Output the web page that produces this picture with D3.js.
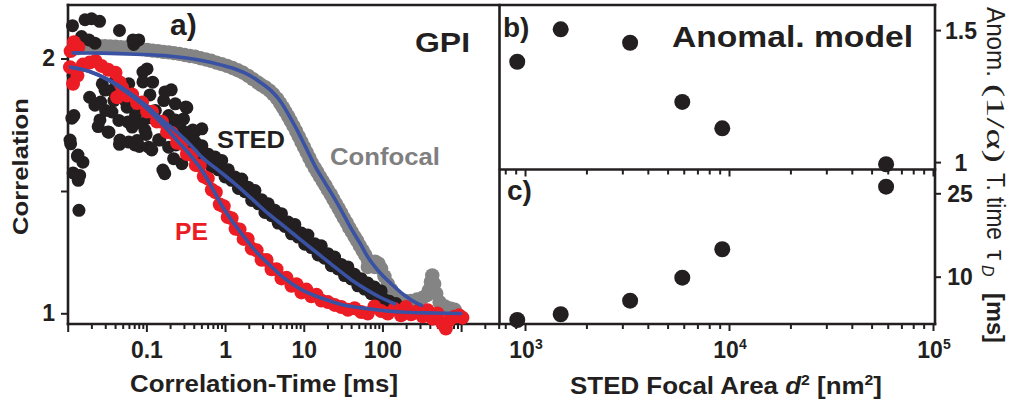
<!DOCTYPE html>
<html><head><meta charset="utf-8">
<script src="https://cdn.jsdelivr.net/npm/d3@7"></script>
<style>
body{margin:0;background:#fff;}
svg{display:block;}
</style>
</head><body>
<svg id="chart" width="1011" height="404"></svg>
<script>
// ---------------- DATA ----------------
// Panel a: FCS correlation curves, [tau (ms), G]
const confocalData = [[0.0117,2.037],[0.0136,2.041],[0.0160,2.043],[0.0186,2.046],[0.0218,2.047],[0.0254,2.048],[0.0297,2.048],[0.0347,2.047],[0.0405,2.046],[0.0473,2.044],[0.0553,2.043],[0.0646,2.042],[0.0755,2.039],[0.0881,2.037],[0.103,2.034],[0.120,2.031],[0.141,2.029],[0.164,2.026],[0.192,2.024],[0.224,2.021],[0.262,2.018],[0.306,2.014],[0.357,2.010],[0.417,2.007],[0.487,2.001],[0.569,1.996],[0.665,1.991],[0.777,1.984],[0.907,1.978],[1.06,1.971],[1.24,1.963],[1.45,1.954],[1.69,1.944],[1.97,1.932],[2.26,1.919],[2.59,1.906],[2.91,1.895],[3.27,1.886],[3.68,1.874],[4.09,1.860],[4.60,1.842],[5.01,1.825],[5.42,1.808],[5.86,1.791],[6.33,1.773],[6.85,1.754],[7.40,1.735],[8.00,1.715],[8.64,1.694],[9.34,1.673],[10.1,1.652],[10.9,1.631],[11.8,1.610],[12.7,1.590],[13.8,1.571],[14.9,1.554],[16.1,1.536],[17.4,1.519],[18.8,1.502],[20.3,1.484],[22.0,1.467],[23.8,1.448],[25.7,1.430],[27.7,1.412],[30.0,1.393],[32.4,1.374],[35.0,1.356],[37.8,1.336],[40.9,1.319],[44.2,1.301],[47.8,1.284],[51.6,1.265],[55.8,1.247],[60.4,1.229],[65.2,1.210],[65.2,1.182],[71.9,1.192],[79.2,1.182],[80.8,1.203],[89.0,1.195],[96.2,1.175],[106,1.145],[117,1.116],[129,1.093],[145,1.072],[166,1.056],[194,1.048],[231,1.048],[275,1.054],[321,1.060],[367,1.071],[390,1.090],[413,1.123],[430,1.149],[455,1.116],[483,1.077],[532,1.044],[621,1.027],[740,1.018],[831,1.014]];

const stedData = [[0.0115,2.129],[0.0166,2.152],[0.0201,2.156],[0.0254,2.146],[0.0455,2.110],[0.0800,2.073],[0.0691,2.055],[0.0150,2.086],[0.0222,2.060],[0.0117,1.933],[0.0120,1.776],[0.0109,1.665],[0.0133,1.616],[0.0156,1.593],[0.0142,1.541],[0.0136,1.522],[0.0139,1.404],[0.102,1.959],[0.120,1.907],[0.207,1.877],[0.0262,1.829],[0.0244,1.733],[0.0334,1.711],[0.0455,1.663],[0.0597,1.672],[0.0762,1.678],[0.0815,1.655],[0.0991,1.702],[0.143,1.681],[0.171,1.548],[0.0386,1.835],[0.0492,1.855],[0.0569,1.809],[0.0726,1.776],[0.107,1.767],[0.130,1.796],[0.166,1.835],[0.233,1.822],[0.327,1.807],[0.0275,1.901],[0.0367,1.875],[0.0447,1.757],[0.0659,1.731],[0.0881,1.744],[0.297,1.763],[0.409,1.711],[0.343,1.639],[0.283,1.587],[0.222,1.607],[0.507,1.724],[0.0190,1.848],[0.0303,1.796],[0.0405,1.914],[0.0597,1.901],[0.192,1.652],[0.107,1.652],
[0.0222,1.817],[0.0257,1.759],[0.0325,1.712],[0.0365,1.790],[0.0461,1.680],[0.0533,1.837],[0.0582,1.751],[0.0715,1.661],[0.0828,1.798],[0.0957,1.719],[0.111,1.857],[0.117,1.641],[0.148,1.680],[0.172,1.869],[0.199,1.739],[0.237,1.661],[0.317,1.810],[0.389,1.719],[0.162,1.562],[0.0904,1.947],[0.0904,1.908],[0.0113,1.766],[0.0107,1.680],[0.0135,1.621],[0.0117,1.551],[0.0186,2.073],[0.0675,2.073],[0.0298,1.876],[0.0436,1.896],
[0.192,1.776],[0.211,1.725],[0.233,1.759],[0.257,1.707],[0.283,1.718],[0.312,1.673],[0.343,1.710],[0.379,1.658],[0.417,1.672],[0.460,1.624],[0.507,1.658],[0.558,1.605],[0.615,1.624],[0.678,1.574],[0.747,1.613],[0.824,1.563],[0.907,1.600],[1.00,1.535],[1.10,1.563],[1.21,1.522],[1.34,1.535],[1.48,1.490],[1.63,1.527],[1.79,1.477],[1.97,1.495],[2.18,1.443],[2.40,1.482],[2.64,1.430],[2.91,1.446],[3.21,1.396],[3.54,1.430],[3.90,1.383],[4.30,1.404],[4.73,1.354],[5.21,1.391],[5.75,1.341],[6.33,1.358],[6.98,1.312],[7.69,1.349],[8.48,1.299],[9.34,1.315],[10.3,1.271],[11.3,1.307],[12.5,1.258],[13.8,1.273],[15.2,1.229],[16.7,1.265],[18.4,1.216],[20.3,1.234],[22.4,1.187],[24.7,1.221],[27.2,1.174],[30.0,1.192],[33.0,1.148],[36.4,1.182],[40.1,1.135],[44.2,1.153],[48.7,1.108],[53.7,1.136],[59.2,1.095],[65.2,1.119],[71.9,1.077],[79.2,1.103],[87.3,1.064],[96.2,1.088],[106,1.054],[123,1.047],[149,1.038]];

const peData = [[0.0120,2.064],[0.0136,2.044],[0.0109,2.029],[0.0107,1.966],[0.0117,1.901],[0.0133,1.933],[0.0156,1.976],[0.0190,1.984],[0.0226,1.990],[0.0269,1.971],[0.0327,1.956],[0.0405,1.944],[0.0455,1.907],[0.0425,1.848],
[0.0492,1.885],[0.0569,1.855],[0.0659,1.859],[0.0762,1.825],[0.0881,1.827],[0.102,1.792],[0.118,1.791],[0.136,1.753],[0.158,1.752],[0.183,1.712],[0.211,1.708],[0.245,1.669],[0.283,1.665],[0.327,1.625],[0.379,1.621],[0.425,1.582],[0.478,1.579],[0.537,1.537],[0.603,1.529],[0.678,1.485],[0.762,1.475],[0.856,1.427],[0.962,1.420],[1.08,1.378],[1.21,1.373],[1.36,1.332],[1.53,1.329],[1.72,1.292],[1.94,1.292],[2.18,1.254],[2.52,1.247],[2.91,1.210],[3.37,1.209],[3.90,1.173],[4.51,1.173],[5.21,1.137],[6.03,1.140],[6.98,1.108],[8.08,1.114],[9.34,1.082],[10.8,1.093],[12.5,1.067],[14.5,1.073],[16.7,1.050],[20.3,1.044],[24.7,1.033],[30.0,1.025],[36.4,1.014],[44.2,1.020],[53.7,1.005],[65.2,0.999],[79.2,1.027],[96.2,1.009],[117,0.999],[142,1.017],[172,0.992],[199,1.025],[231,0.996],[280,1.009],[324,0.988],[375,1.012],[434,0.979],[501,0.999],[580,0.959],[640,0.940],[705,0.973],[815,0.986],[944,0.992],[1040,0.983]];

// fitted curves (blue)
const confocalFit = [[0.0117,2.022],[0.0275,2.021],[0.0726,2.017],[0.192,2.010],[0.507,1.992],[0.907,1.974],[1.34,1.959],[1.97,1.937],[2.91,1.903],[3.90,1.872],[4.97,1.835],[6.33,1.783],[8.08,1.724],[10.3,1.659],[13.8,1.580],[18.4,1.515],[24.7,1.450],[30.0,1.404],[40.1,1.332],[53.7,1.267],[65.2,1.221],[87.3,1.169],[129,1.116],[190,1.071],[280,1.038],[315,1.031]];
const stedFit = [[0.0109,1.966],[0.0186,1.950],[0.0334,1.916],[0.0597,1.868],[0.0971,1.818],[0.158,1.759],[0.257,1.705],[0.379,1.655],[0.507,1.613],[0.824,1.561],[1.34,1.508],[2.18,1.450],[3.54,1.391],[5.75,1.339],[9.34,1.286],[15.2,1.234],[24.7,1.182],[40.1,1.132],[65.2,1.090],[96.2,1.061],[142,1.038]];
const peFit = [[0.0109,1.966],[0.0186,1.950],[0.0334,1.914],[0.0597,1.861],[0.0971,1.809],[0.158,1.744],[0.257,1.672],[0.379,1.613],[0.507,1.561],[0.678,1.495],[0.907,1.424],[1.21,1.365],[1.63,1.312],[2.40,1.247],[3.54,1.195],[5.75,1.136],[9.34,1.093],[16.7,1.060],[30.0,1.035],[65.2,1.018],[172,1.005],[455,1.001],[990,0.999]];

// Panels b and c
const focalArea   = [916, 1496, 3275, 5902, 9268, 58900];   // nm^2
const anomaly     = [1.380, 1.503, 1.452, 1.228, 1.128, 0.992]; // 1/alpha
const transitTime = [2.21, 3.24, 5.68, 9.82, 14.93, 26.19];    // ms

// ticks
const xTicksA = [0.01, 0.1, 1, 10, 100, 1000];
const xTickLabelsA = ["", "0.1", "1", "10", "100", ""];
const yTicksA = [1, 1.48, 2];
const yTickLabelsA = ["1", "", "2"];
const xTicksR = [1e3, 1e4, 1e5];
const xTickExpR = ["3", "4", "5"];
const yTicksB = [1, 1.5];
const yTicksC = [10, 25];

// ---------------- DRAW ----------------
const FONT = '"Liberation Sans", Arial, Helvetica, sans-serif';
const ink = "#231f20", red = "#ec1c24", gray = "#848484", blue = "#3a52a3";
const svg = d3.select("#chart").attr("font-family", FONT);

const xA = d3.scaleLog().domain([0.01, 3030]).range([67.7, 499]);
const yA = d3.scaleLinear().domain([0.958, 2.21]).range([324, 5]);
const xR = d3.scaleLog().domain([754, 102300]).range([500, 935]);
const yB = d3.scaleLinear().domain([0.972, 1.595]).range([169.5, 5]);
const yC = d3.scaleLinear().domain([1.49, 29.28]).range([324, 169.5]);

function logMinor(lo, hi) {
  const t = [];
  for (let e = Math.floor(Math.log10(lo)); e <= Math.ceil(Math.log10(hi)); e++)
    for (let m = 2; m <= 9; m++) { const v = m * Math.pow(10, e); if (v >= lo && v <= hi) t.push(v); }
  return t;
}
function styleAxis(g, fs) {
  g.select(".domain").remove();
  g.selectAll("line").attr("stroke", ink).attr("stroke-width", 2);
  g.selectAll("text").attr("font-family", FONT).attr("font-weight", "bold")
    .attr("font-size", fs || 23).attr("fill", ink);
}

// --- axes panel a
svg.append("g").attr("transform", "translate(0,324)")
  .call(d3.axisBottom(xA).tickValues(logMinor(0.01, 3030)).tickSize(5).tickFormat(() => ""))
  .call(g => styleAxis(g));
svg.append("g").attr("transform", "translate(0,324)")
  .call(d3.axisBottom(xA).tickValues(xTicksA).tickSize(8).tickPadding(10)
    .tickFormat((d, i) => xTickLabelsA[i]))
  .call(g => styleAxis(g));
svg.append("g").attr("transform", "translate(68,0)")
  .call(d3.axisLeft(yA).tickValues(yTicksA).tickSize(7).tickPadding(6)
    .tickFormat((d, i) => yTickLabelsA[i]))
  .call(g => styleAxis(g));

// --- axes panels b/c
svg.append("g").attr("transform", "translate(0,324)")
  .call(d3.axisBottom(xR).tickValues(logMinor(754, 102300)).tickSize(5).tickFormat(() => ""))
  .call(g => styleAxis(g));
svg.append("g").attr("transform", "translate(0,324)")
  .call(d3.axisBottom(xR).tickValues(xTicksR).tickSize(7).tickFormat(() => ""))
  .call(g => styleAxis(g));
svg.append("g").attr("transform", "translate(0,169.5)")
  .call(d3.axisBottom(xR).tickValues(logMinor(754, 102300)).tickSize(5).tickFormat(() => ""))
  .call(g => styleAxis(g));
svg.append("g").attr("transform", "translate(0,169.5)")
  .call(d3.axisBottom(xR).tickValues(xTicksR).tickSize(7).tickFormat(() => ""))
  .call(g => styleAxis(g));
xTicksR.forEach((v, i) => {
  const t = svg.append("text").attr("x", xR(v) + 1).attr("y", 358).attr("text-anchor", "middle")
    .attr("font-weight", "bold").attr("font-size", 23).attr("fill", ink);
  t.append("tspan").text("10");
  t.append("tspan").attr("font-size", 14).attr("dy", -9).text(xTickExpR[i]);
});
svg.append("g").attr("transform", "translate(935,0)")
  .call(d3.axisRight(yB).tickValues(yTicksB).tickSize(6).tickFormat(d => String(d)))
  .call(g => styleAxis(g))
  .call(g => g.selectAll("text").attr("text-anchor", "middle").attr("x", 26).attr("dy", "0.36em"));
svg.append("g").attr("transform", "translate(935,0)")
  .call(d3.axisRight(yC).tickValues(yTicksC).tickSize(6).tickFormat(d => String(d)))
  .call(g => styleAxis(g))
  .call(g => g.selectAll("text").attr("text-anchor", "middle").attr("x", 25).attr("dy", "0.36em"));

// --- frames
const frame = [[68,5,935,5],[68,5,68,324],[68,324,935,324],[499.5,5,499.5,324],[935,5,935,324],[500,169.5,935,169.5]];
svg.append("g").selectAll("line").data(frame).join("line")
  .attr("x1", d => d[0]).attr("y1", d => d[1]).attr("x2", d => d[2]).attr("y2", d => d[3])
  .attr("stroke", ink).attr("stroke-width", 2.6).attr("stroke-linecap", "square");

// --- data panel a
function dots(data, color, r) {
  svg.append("g").selectAll("circle").data(data).join("circle")
    .attr("cx", d => xA(d[0])).attr("cy", d => yA(d[1])).attr("r", r).attr("fill", color);
}
dots(confocalData, gray, 7.2);
dots(stedData, ink, 6.5);
dots(peData, red, 7);
const line = d3.line().x(d => xA(d[0])).y(d => yA(d[1])).curve(d3.curveMonotoneX);
[confocalFit, stedFit, peFit].forEach(f => {
  svg.append("path").attr("d", line(f)).attr("fill", "none").attr("stroke", blue)
    .attr("stroke-width", 3.6).attr("stroke-linecap", "round");
});

// --- data panels b, c
svg.append("g").selectAll("circle").data(focalArea).join("circle")
  .attr("cx", d => xR(d)).attr("cy", (d, i) => yB(anomaly[i])).attr("r", 8).attr("fill", ink);
svg.append("g").selectAll("circle").data(focalArea).join("circle")
  .attr("cx", d => xR(d)).attr("cy", (d, i) => yC(transitTime[i])).attr("r", 8).attr("fill", ink);

// --- texts
function label(txt, x, y, fs, color, len) {
  const t = svg.append("text").attr("x", x).attr("y", y).attr("font-size", fs)
    .attr("font-weight", "bold").attr("fill", color || ink).text(txt);
  if (len) t.attr("textLength", len).attr("lengthAdjust", "spacingAndGlyphs");
  return t;
}
label("a)", 170, 35, 30);
label("GPI", 415, 52, 28, ink, 55);
label("STED", 217, 148, 24, ink, 68);
label("Confocal", 330, 165, 23, "#7f7f7f", 110);
label("PE", 175, 240, 24, red, 33);
label("b)", 503, 37, 28);
label("Anomal. model", 672, 47, 30, ink, 241);
label("c)", 507, 200, 28);
label("Correlation-Time [ms]", 130, 392, 23, ink, 268);

svg.append("text").attr("transform", "translate(28,166.5) rotate(-90)").attr("text-anchor", "middle")
  .attr("font-size", 22).attr("font-weight", "bold").attr("fill", ink)
  .attr("textLength", 137).attr("lengthAdjust", "spacingAndGlyphs").text("Correlation");

const xl = svg.append("text").attr("x", 570).attr("y", 394).attr("font-size", 23)
  .attr("font-weight", "bold").attr("fill", ink)
  .attr("textLength", 312).attr("lengthAdjust", "spacingAndGlyphs");
xl.append("tspan").text("STED Focal Area ");
xl.append("tspan").attr("font-style", "italic").text("d");
xl.append("tspan").attr("font-size", 14).attr("dy", -9).text("2");
xl.append("tspan").attr("dy", 9).text(" [nm");
xl.append("tspan").attr("font-size", 14).attr("dy", -9).text("2");
xl.append("tspan").attr("dy", 9).text("]");

// right axis title, reading top to bottom
const rg = svg.append("g").attr("transform", "translate(987,0) rotate(90)");
function rtext(txt, x, len, opts) {
  const t = rg.append("text").attr("x", x).attr("y", 0).attr("font-size", opts.fs || 25)
    .attr("font-weight", opts.bold ? "bold" : "normal").attr("fill", ink)
    .attr("font-family", opts.serif ? '"Liberation Serif", "Times New Roman", serif' : FONT)
    .text(txt);
  if (len) t.attr("textLength", len).attr("lengthAdjust", "spacingAndGlyphs");
  return t;
}
rtext("Anom.", 7, 70, {});
rtext("(1/α)", 84, 79, {serif: true, fs: 25});
rtext("T. time", 173, 67, {});
rtext("τ", 250, 0, {});
rtext("D", 265, 0, {fs: 16}).attr("font-style", "italic").attr("dy", 5);
rtext("[ms]", 293, 50, {bold: true, fs: 24});
</script>
</body></html>
